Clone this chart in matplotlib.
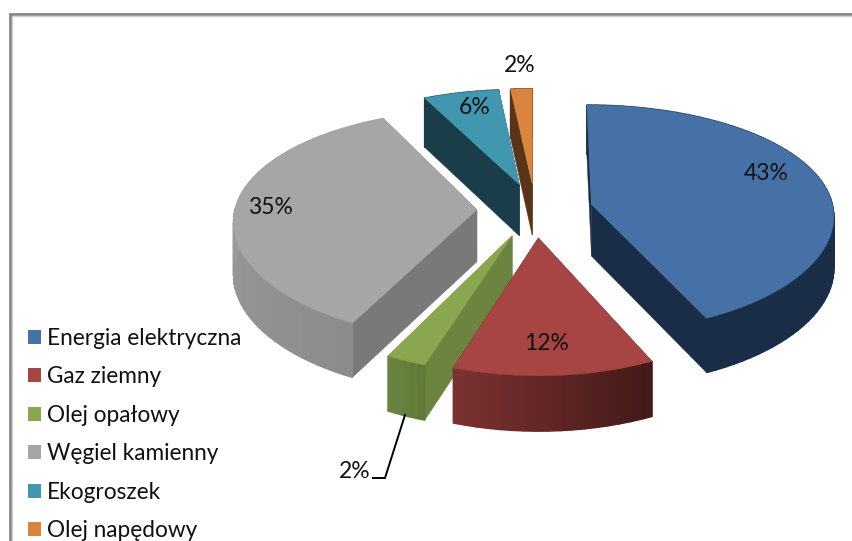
# wykres kolowy 3D - zuzycie paliw
import numpy as np
import matplotlib
matplotlib.use('Agg')
import matplotlib.pyplot as plt
from matplotlib.patches import Polygon, Patch

plt.rcParams['font.family'] = ['Lato', 'DejaVu Sans']

nazwy = ['Energia elektryczna', 'Gaz ziemny', 'Olej opałowy',
         'Węgiel kamienny', 'Ekogroszek', 'Olej napędowy']
wartosci = [43.1, 12.0, 2.4, 35.3, 5.6, 1.6]

kolory = ['#4571a7', '#a64543', '#8aa64e', '#a6a6a6', '#4297b0', '#db843d']
sciany = ['#1a2d47', '#5a2423', '#6c843f', '#797979', '#1a3d4a', '#5a3416']
# kolor luku: poczatek i koniec (zgodnie z ruchem wskazowek)
luki = [('#1a2d47', '#1a2d47'), ('#431a18', '#7a3130'), ('#5f7a38', '#6a8440'),
        ('#8c8c8c', '#a6a6a6'), ('#1a3d4a', '#1a3d4a'), ('#5a3416', '#5a3416')]
kolejnosc = [5, 4, 0, 3, 2, 1]

# polozenie etykiet w pikselach
etykiety_xy = [(766, 173), (547, 344), (355, 472), (270, 208), (475, 107), (520, 65)]

cx, cy = 535, 210
R, Ry = 242, 113
persp_x, persp_y, persp_d = 0.09, 0.125, 0.05
glebokosc = 52
wysuniecie = 0.24


def rzut(u, v, dol=False):
    y = cy - Ry * v / (1 + persp_y * v)
    if dol:
        y += glebokosc / (1 + persp_d * v)
    return cx + R * u / (1 + persp_x * v), y


def mieszaj(c1, c2, t):
    a = np.array(matplotlib.colors.to_rgb(c1))
    b = np.array(matplotlib.colors.to_rgb(c2))
    return a + (b - a) * t


fig = plt.figure(figsize=(8.53, 5.41), dpi=100)
ax = fig.add_axes([0, 0, 1, 1])
ax.set_xlim(0, 853)
ax.set_ylim(541, 0)
ax.axis('off')

# ramka
ax.plot([10.5, 10.5, 853], [541, 14, 14], color='#868686', lw=2, solid_joinstyle='miter')
ax.plot([12.5, 12.5, 853], [541, 16, 16], color='#cfcfcf', lw=1, solid_joinstyle='miter')

granice = np.cumsum([0] + wartosci) / sum(wartosci) * 2 * np.pi

for i in kolejnosc:
    a0, a1 = granice[i], granice[i + 1]
    srodek = (a0 + a1) / 2
    du = wysuniecie * np.sin(srodek)
    dv = wysuniecie * np.cos(srodek)
    katy = np.linspace(a0, a1, max(int((a1 - a0) * 25), 6))
    uu = du + np.sin(katy)
    vv = dv + np.cos(katy)

    gora = [rzut(du, dv)] + [rzut(u, v) for u, v in zip(uu, vv)]

    # sciany przekroju
    for u, v in [(uu[0], vv[0]), (uu[-1], vv[-1])]:
        ax.add_patch(Polygon([rzut(du, dv), rzut(u, v), rzut(u, v, True), rzut(du, dv, True)],
                             facecolor=sciany[i], edgecolor=sciany[i], lw=0.3))

    # luk zewnetrzny
    for k in range(len(katy) - 1):
        kol = mieszaj(luki[i][0], luki[i][1], k / (len(katy) - 2))
        ax.add_patch(Polygon([rzut(uu[k], vv[k]), rzut(uu[k + 1], vv[k + 1]),
                              rzut(uu[k + 1], vv[k + 1], True), rzut(uu[k], vv[k], True)],
                             facecolor=kol, edgecolor=kol, lw=1.0))

    ax.add_patch(Polygon(gora, facecolor=kolory[i], edgecolor=kolory[i], lw=0.3))

# linia odniesienia
ax.plot([405, 385, 373], [415, 478, 478], color='black', lw=1.4, solid_joinstyle='miter')

for w, (x, y) in zip(wartosci, etykiety_xy):
    ax.text(x, y, f'{w:.0f}%', ha='center', va='center', fontsize=16.5, color='#111111')

uchwyty = [Patch(facecolor=k, edgecolor='none') for k in kolory]
ax.legend(uchwyty, nazwy, loc='upper left', bbox_to_anchor=(28 / 853, 1 - 328 / 541),
          frameon=False, fontsize=16.3, labelspacing=0.77, handlelength=0.57, handleheight=0.57,
          handletextpad=0.26, borderpad=0, borderaxespad=0, labelcolor='#111111')

fig.savefig('out.png', dpi=100)
